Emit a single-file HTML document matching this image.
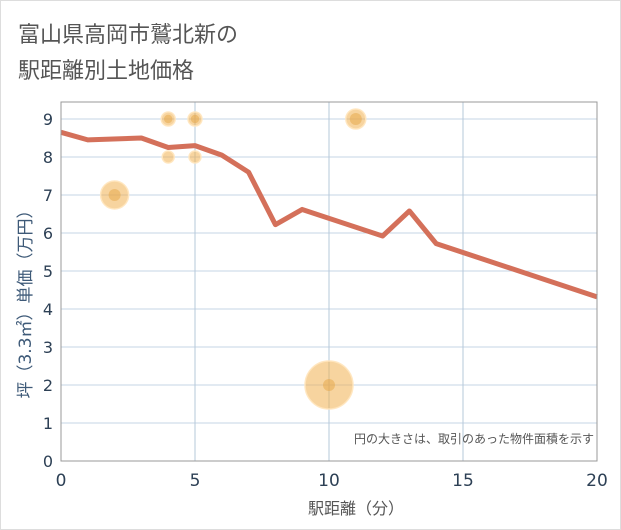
<!DOCTYPE html>
<html><head><meta charset="utf-8"><style>
html,body{margin:0;padding:0;background:#fff}
svg{display:block;font-family:"DejaVu Sans","Noto Sans CJK JP",sans-serif}
</style></head><body>
<svg id="chart" width="621" height="530" viewBox="0 0 621 530" xmlns="http://www.w3.org/2000/svg">
<rect x="0.5" y="0.5" width="620" height="529" fill="#fff" stroke="#ddd"/>
<text x="18" y="42" font-size="22" fill="#555">富山県高岡市鷲北新の</text>
<text x="18" y="78" font-size="22" fill="#555">駅距離別土地価格</text>
<g id="grid"></g>
<g id="marks"></g>
<rect x="61" y="102" width="536" height="359" fill="none" stroke="#999" stroke-width="1"/>
<g id="axes"></g>
<text x="356" y="514" font-size="16" fill="#555" text-anchor="middle">駅距離（分）</text>
<text transform="translate(31,300) rotate(-90)" font-size="17" fill="#3e5a78" text-anchor="middle">坪（3.3㎡）単価（万円）</text>
<text x="594" y="443" font-size="12" fill="#555" text-anchor="end">円の大きさは、取引のあった物件面積を示す</text>
</svg>
<script>
const xTicks=[0,5,10,15,20];
const yTicks=[0,1,2,3,4,5,6,7,8,9];
const lineX=[0,1,3,4,5,6,7,8,9,12,13,14,20];
const lineY=[8.65,8.45,8.5,8.25,8.3,8.05,7.6,6.22,6.62,5.92,6.58,5.72,4.32];
const bubbleX=[2,4,5,4,5,11,10];
const bubbleY=[7,9,9,8,8,9,2];
const bubbleR=[14,7,7,6,6,10,24];
const NS="http://www.w3.org/2000/svg";
const X=v=>61+v*26.8, Y=v=>461-v*38;
const grid=document.getElementById('grid'),marks=document.getElementById('marks'),axes=document.getElementById('axes');
function mk(tag,attrs,parent){const e=document.createElementNS(NS,tag);for(const k in attrs)e.setAttribute(k,attrs[k]);parent.appendChild(e);return e;}
yTicks.forEach(t=>{
 const l=mk('line',{x1:61,x2:597,y1:Y(t),y2:Y(t),stroke:'#c5d6e6','stroke-width':1},grid);
 
 
 const tx=mk('text',{x:53,y:Y(t)+6,'font-size':16,fill:'#2d4055','text-anchor':'end'},axes);tx.textContent=t;
 
 
});
xTicks.forEach(t=>{
 if(t>0&&t<20){const l=mk('line',{x1:X(t),x2:X(t),y1:102,y2:461,stroke:'#b5c8da','stroke-width':1},grid);
 
 }
 const tx=mk('text',{x:X(t),y:486,'font-size':17,fill:'#2d4055','text-anchor':'middle'},axes);tx.textContent=t;
 
 
});
bubbleX.forEach((bx,i)=>{
 const c=mk('circle',{cx:X(bx),cy:Y(bubbleY[i]),r:bubbleR[i],fill:'rgba(240,176,80,0.55)',stroke:'rgba(255,230,190,0.9)','stroke-width':1.5},marks);
 
 
 if(bubbleR[i]>6){
 const d=mk('circle',{cx:X(bx),cy:Y(bubbleY[i]),r:Math.min(6,bubbleR[i]*0.6),fill:'rgba(230,165,70,0.5)'},marks);
 
 }
});
const p=mk('polyline',{points:lineX.map((x,i)=>X(x)+','+Y(lineY[i])).join(' '),fill:'none',stroke:'#d4705a','stroke-width':5,'stroke-linejoin':'round'},marks);


</script>
</body></html>
